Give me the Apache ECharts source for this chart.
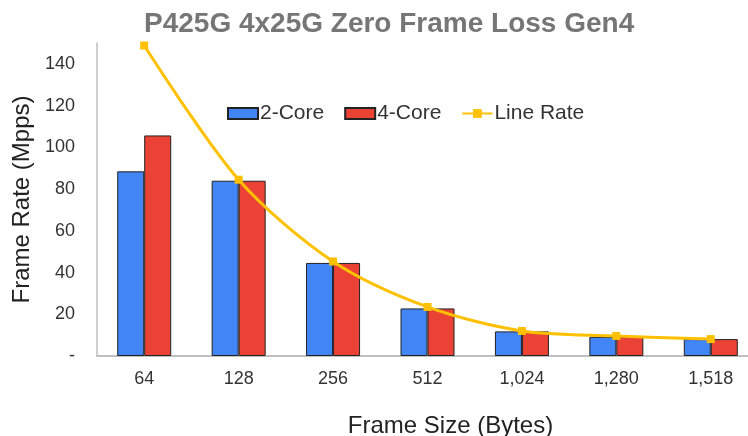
<!DOCTYPE html>
<html>
<head>
<meta charset="utf-8">
<script src="https://cdn.jsdelivr.net/npm/echarts@6/dist/echarts.min.js"></script>
<style>
  html, body { margin: 0; padding: 0; background: #fff; }
  #main { width: 748px; height: 436px; }
</style>
</head>
<body>
<div id="main"></div>
<script>
// frame sizes (bytes)
var frameSizes = ['64', '128', '256', '512', '1,024', '1,280', '1,518'];
// Mpps
var twoCore = [88.5, 84, 44.6, 22.8, 11.8, 9.2, 8.1];
var fourCore = [105.7, 84, 44.6, 22.8, 11.8, 9.2, 8.1];
var lineRate = [148.8, 84.5, 45.3, 23.5, 12.0, 9.6, 8.1];

var font = 'Liberation Sans, Arial, sans-serif';

var option = {
  animation: false,
  title: {
    text: 'P425G 4x25G Zero Frame Loss Gen4',
    left: 139,
    top: 5,
    textStyle: { color: '#767676', fontSize: 28, fontWeight: 'bold', fontFamily: font }
  },
  legend: {
    left: 222,
    top: 98,
    itemWidth: 30,
    itemHeight: 11,
    itemGap: 20,
    textStyle: { color: '#333', fontSize: 21, fontFamily: font, padding: [0, 0, 0, -3] },
    data: [
      { name: '2-Core', icon: 'rect' },
      { name: '4-Core', icon: 'rect' },
      'Line Rate'
    ]
  },
  grid: { left: 97, width: 661, top: 43, bottom: 80, outerBoundsMode: 'none' },
  xAxis: {
    type: 'category',
    data: frameSizes,
    name: 'Frame Size (Bytes)',
    nameLocation: 'middle',
    nameGap: 58,
    nameTextStyle: { color: '#222', fontSize: 24, fontFamily: font, padding: [0, 0, 0, 46] },
    axisLine: { lineStyle: { color: '#bfbfbf', width: 2 } },
    axisTick: { show: false },
    axisLabel: { color: '#333', fontSize: 18, fontFamily: font, margin: 14 }
  },
  yAxis: {
    type: 'value',
    min: 0,
    max: 150,
    interval: 20,
    name: 'Frame Rate (Mpps)',
    nameLocation: 'middle',
    nameGap: 60,
    nameTextStyle: { color: '#222', fontSize: 24, fontFamily: font },
    axisLine: { show: true, lineStyle: { color: '#bfbfbf', width: 1.5 } },
    axisTick: { show: false },
    splitLine: { show: false },
    axisLabel: {
      color: '#333', fontSize: 18, fontFamily: font, margin: 22,
      formatter: function (v) {
        if (v === 0) return '-';
        if (v > 140) return '';
        return v;
      }
    }
  },
  series: [
    {
      name: '2-Core',
      type: 'bar',
      data: twoCore,
      barWidth: 27,
      barGap: '0%',
      itemStyle: { color: '#4285F4', borderColor: '#222', borderWidth: 1 }
    },
    {
      name: '4-Core',
      type: 'bar',
      data: fourCore,
      barWidth: 27,
      barGap: '0%',
      itemStyle: { color: '#EA4335', borderColor: '#222', borderWidth: 1 }
    },
    {
      name: 'Line Rate',
      type: 'line',
      data: lineRate,
      smooth: 0.3,
      symbol: 'rect',
      symbolSize: 8,
      lineStyle: { color: '#FFC000', width: 3 },
      itemStyle: { color: '#FFC000' }
    }
  ]
};

var chart = echarts.init(document.getElementById('main'));
chart.setOption(option);
</script>
</body>
</html>
